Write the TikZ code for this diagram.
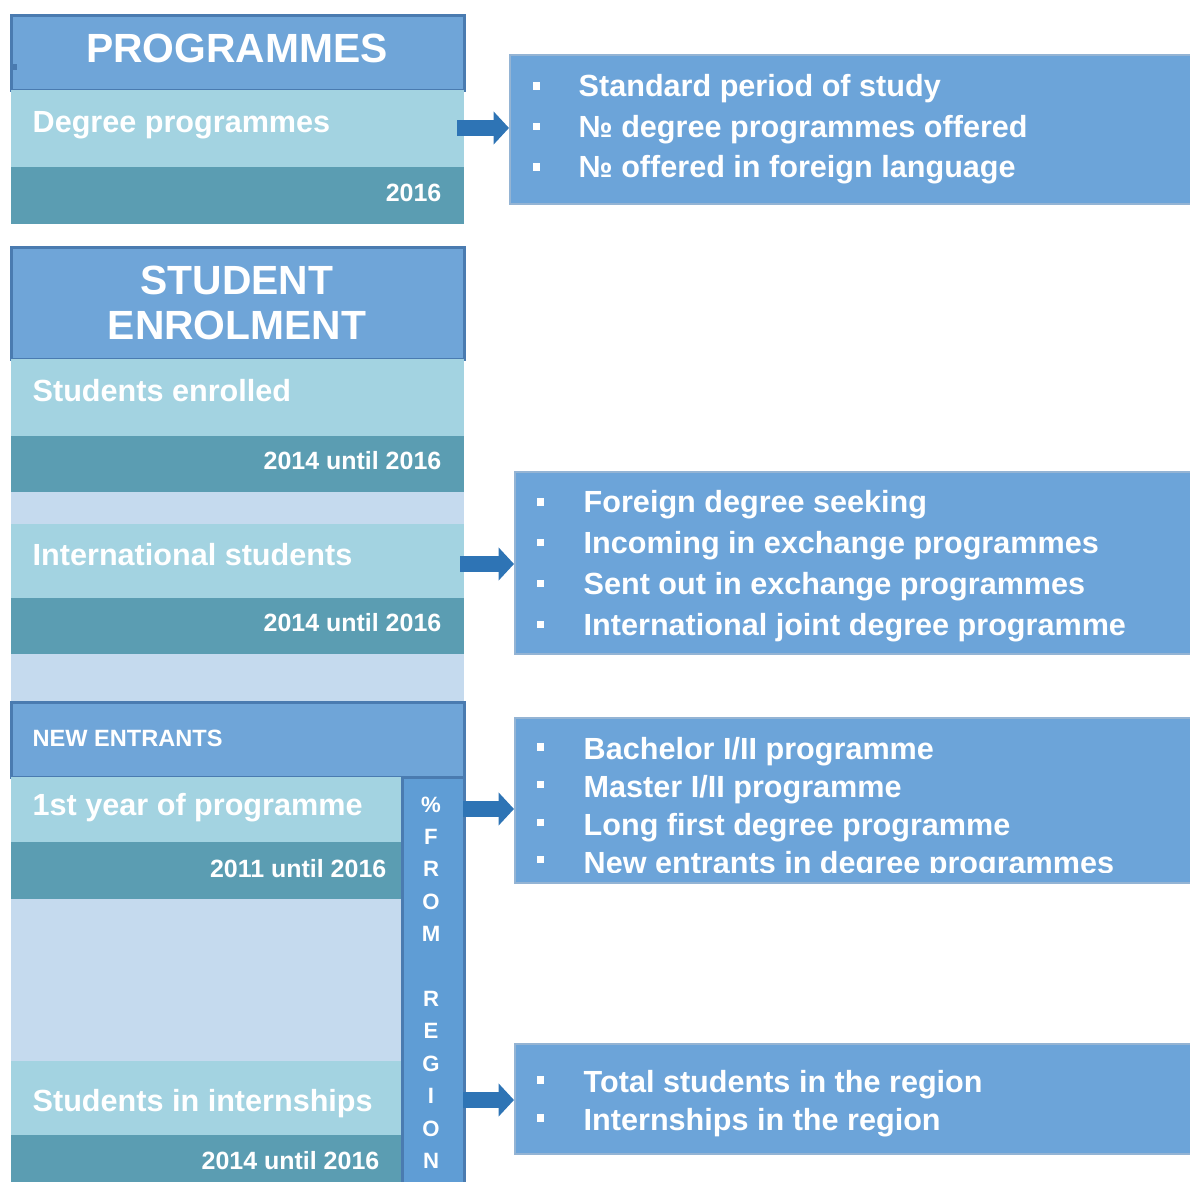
\documentclass[tikz,border=0pt]{standalone}
\usepackage{fontspec}
\setmainfont{Liberation Sans}
\usetikzlibrary{arrows.meta}

\definecolor{hdrfill}{HTML}{6FA5D8}
\definecolor{hdrline}{HTML}{4A7BB0}
\definecolor{lightfill}{HTML}{A3D3E1}
\definecolor{darkfill}{HTML}{5B9DB2}
\definecolor{palefill}{HTML}{C5DAEE}
\definecolor{infofill}{HTML}{6CA4D9}
\definecolor{infoline}{HTML}{94B4D4}
\definecolor{arrowblue}{HTML}{2E74B5}
\definecolor{colfill}{HTML}{5F9DD5}

\tikzset{
  hdr/.style={draw=hdrline, line width=0.8pt, fill=hdrfill, anchor=north west, inner sep=0pt},
  lightrow/.style={fill=lightfill, anchor=north west, inner sep=0pt},
  darkrow/.style={fill=darkfill, anchor=north west, inner sep=0pt},
  infobox/.style={draw=infoline, line width=0.6pt, fill=infofill, anchor=north west, inner sep=0pt},
  bigarrow/.style={draw=arrowblue, line width=4.3pt, -{Triangle[width=9.2pt,length=4.4pt]}},
  bul/.style={fill=white, minimum size=2pt, inner sep=0pt},
  headtxt/.style={text=white, font=\bfseries\fontsize{11.6}{13}\selectfont, anchor=base, inner sep=0pt},
  rowtxt/.style={text=white, font=\bfseries\fontsize{8.7}{10}\selectfont, anchor=base west, inner sep=0pt},
  yeartxt/.style={text=white, font=\bfseries\fontsize{7.1}{8}\selectfont, anchor=base east, inner sep=0pt},
  coltxt/.style={text=white, font=\bfseries\fontsize{6.3}{7}\selectfont, anchor=base, inner sep=0pt}
}

\begin{document}
\begin{tikzpicture}[x=0.01cm, y=-0.01cm]
    \useasboundingbox (0,0) rectangle (1190,1182);

    % left column
    \node[fill=palefill, anchor=north west, inner sep=0pt, minimum width=4.53cm, minimum height=8.3cm] (palebg) at (10,358) {};

    \node[hdr, minimum width=4.53cm, minimum height=0.75cm] (proghd) at (10,14) {};
    \node[lightrow, minimum width=4.53cm, minimum height=0.77cm] (degrow) at (10,89) {};
    \node[darkrow, minimum width=4.53cm, minimum height=0.57cm] (degyr) at (10,166) {};
    \fill[hdrline] (12,64) rectangle (17,70);

    \node[hdr, minimum width=4.53cm, minimum height=1.12cm] (enrhd) at (10,246) {};
    \node[lightrow, minimum width=4.53cm, minimum height=0.77cm] (enrrow) at (10,358) {};
    \node[darkrow, minimum width=4.53cm, minimum height=0.56cm] (enryr) at (10,435) {};
    \node[lightrow, minimum width=4.53cm, minimum height=0.74cm] (introw) at (10,523) {};
    \node[darkrow, minimum width=4.53cm, minimum height=0.56cm] (intyr) at (10,597) {};

    \node[hdr, minimum width=4.53cm, minimum height=0.75cm] (newhd) at (10,701) {};
    \node[lightrow, minimum width=3.91cm, minimum height=0.65cm] (firstrow) at (10,776) {};
    \node[darkrow, minimum width=3.98cm, minimum height=0.57cm] (firstyr) at (10,841) {};
    \node[lightrow, minimum width=3.91cm, minimum height=0.74cm] (intnrow) at (10,1060) {};
    \node[darkrow, minimum width=3.91cm, minimum height=0.6cm] (intnyr) at (10,1134) {};
    \node[draw=hdrline, line width=0.8pt, fill=colfill, anchor=north west, inner sep=0pt, minimum width=0.62cm, minimum height=4.2cm] (regcol) at (401,776) {};

    % right boxes
    \node[infobox, minimum width=6.9cm, minimum height=1.49cm] (box1) at (509,54) {};
    \node[infobox, minimum width=6.9cm, minimum height=1.82cm] (box2) at (514,471) {};
    \node[infobox, minimum width=6.9cm, minimum height=1.65cm] (box3) at (514,717) {};
    \node[infobox, minimum width=6.9cm, minimum height=1.10cm] (box4) at (514,1043) {};

    % arrows
    \coordinate (a1) at (457,128);
    \coordinate (a2) at (460,564);
    \coordinate (a3) at (463,809);
    \coordinate (a4) at (463,1100);
    \draw[bigarrow] (a1) -- (a1 -| box1.west);
    \draw[bigarrow] (a2) -- (a2 -| box2.west);
    \draw[bigarrow] (a3) -- (a3 -| box3.west);
    \draw[bigarrow] (a4) -- (a4 -| box4.west);

    % texts left
    \node[headtxt] (progtitle) at (237,63) {PROGRAMMES};
    \node[rowtxt] (degtxt) at (32,133) {Degree programmes};
    \node[yeartxt] (degyrtxt) at (442,202) {2016};

    \node[headtxt] (enrtitle1) at (237,295) {STUDENT};
    \node[headtxt] (enrtitle2) at (237,340) {ENROLMENT};
    \node[rowtxt] (enrtxt) at (32,402) {Students enrolled};
    \node[yeartxt] (enryrtxt) at (442,470) {2014 until 2016};
    \node[rowtxt] (inttxt) at (32,565) {International students};
    \node[yeartxt] (intyrtxt) at (442,631) {2014 until 2016};

    \node[rowtxt, font=\bfseries\fontsize{6.7}{8}\selectfont] (newtxt) at (32,746) {NEW ENTRANTS};
    \node[rowtxt] (firsttxt) at (32,815) {1st year of programme};
    \node[yeartxt] (firstyrtxt) at (387,877) {2011 until 2016};
    \node[rowtxt] (intntxt) at (32,1111) {Students in internships};
    \node[yeartxt] (intnyrtxt) at (380,1169) {2014 until 2016};

    \foreach \ch [count=\i from 0] in {\%,F,R,O,M,{},R,E,G,I,O,N}
        \node[coltxt] (col\i) at (431,{812+32.4*\i}) {\ch};

    % texts right
    \foreach \t [count=\i from 0] in {Standard period of study,№ degree programmes offered,№ offered in foreign language} {
        \node[bul] (b1\i) at (536.5,{86+40.5*\i}) {};
        \node[rowtxt] (t1\i) at (578,{97+40.5*\i}) {\t};
    }
    \foreach \t [count=\i from 0] in {Foreign degree seeking,Incoming in exchange programmes,Sent out in exchange programmes,International joint degree programme} {
        \node[bul] (b2\i) at (540.5,{502+40.7*\i}) {};
        \node[rowtxt] (t2\i) at (583,{513+40.7*\i}) {\t};
    }
    \begin{scope}
        \clip (514,717) rectangle (1190,872.5);
        \foreach \t [count=\i from 0] in {Bachelor I/II programme,Master I/II programme,Long first degree programme,New entrants in degree programmes} {
            \node[bul] (b3\i) at (540.5,{747+37.6*\i}) {};
            \node[rowtxt] (t3\i) at (583,{759.5+37.9*\i}) {\t};
        }
    \end{scope}
    \foreach \t [count=\i from 0] in {Total students in the region,Internships in the region} {
        \node[bul] (b4\i) at (540.5,{1080+38*\i}) {};
        \node[rowtxt] (t4\i) at (583,{1092+38*\i}) {\t};
    }
\end{tikzpicture}
\end{document}
